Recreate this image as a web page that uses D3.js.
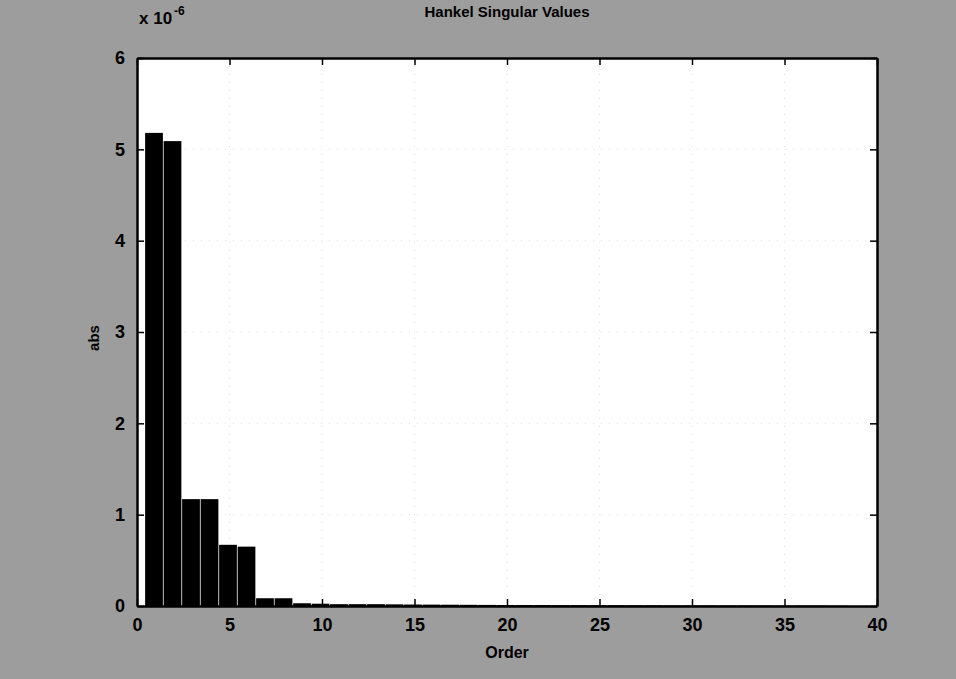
<!DOCTYPE html>
<html>
<head>
<meta charset="utf-8">
<script src="https://cdn.jsdelivr.net/npm/d3@7"></script>
<style>
  html, body { margin: 0; padding: 0; background: #9d9d9d; }
  svg { display: block; }
  text { font-family: "Liberation Sans", Arial, sans-serif; font-weight: bold; fill: #000; }
</style>
</head>
<body>
<div id="chart"></div>
<script>
(function () {
  "use strict";

  // Data (values in units of 1e-6)
  const orders = d3.range(1, 39);
  const hsv = [5.18, 5.09, 1.17, 1.17, 0.67, 0.65, 0.085, 0.085, 0.03, 0.025,
               0.02, 0.02, 0.02, 0.018, 0.016, 0.015, 0.014, 0.013, 0.012, 0.011,
               0.01, 0.01, 0.009, 0.009, 0.008, 0.008, 0.007, 0.007, 0.006, 0.006,
               0.006, 0.005, 0.005, 0.005, 0.004, 0.004, 0.004, 0.003];
  const xTicks = [0, 5, 10, 15, 20, 25, 30, 35, 40];
  const yTicks = [0, 1, 2, 3, 4, 5, 6];

  // Dimensions
  const totalW = 956, totalH = 679;
  const margin = { top: 58, right: 79, bottom: 73, left: 137 };
  const width  = totalW - margin.left - margin.right;
  const height = totalH - margin.top - margin.bottom;

  const x = d3.scaleLinear().domain([0, 40]).range([0, width]);
  const y = d3.scaleLinear().domain([0, 6]).range([height, 0]);

  const svg = d3.select("#chart").append("svg")
    .attr("width", totalW).attr("height", totalH);

  svg.append("rect").attr("width", totalW).attr("height", totalH).attr("fill", "#9d9d9d");

  const g = svg.append("g").attr("transform", `translate(${margin.left},${margin.top})`);

  // Plot background
  g.append("rect").attr("width", width).attr("height", height).attr("fill", "#fff");

  // Faint dotted grid
  g.append("g").selectAll("line").data(xTicks.slice(1, -1)).join("line")
    .attr("x1", d => x(d)).attr("x2", d => x(d)).attr("y1", 0).attr("y2", height)
    .attr("stroke", "#e0e0e0").attr("stroke-dasharray", "1,7");
  g.append("g").selectAll("line").data(yTicks.slice(1, -1)).join("line")
    .attr("x1", 0).attr("x2", width).attr("y1", d => y(d)).attr("y2", d => y(d))
    .attr("stroke", "#e0e0e0").attr("stroke-dasharray", "1,7");

  // Bars
  const bw = x(0.96) - x(0);
  g.append("g").selectAll("rect").data(orders).join("rect")
    .attr("x", d => x(d) - bw / 2 - 1.5)
    .attr("width", bw)
    .attr("y", (d, i) => y(hsv[i]))
    .attr("height", (d, i) => height - y(hsv[i]) + 1)
    .attr("fill", "#000");

  // Axes (inward ticks)
  const tickLen = 7;
  const axB = g.append("g").attr("transform", `translate(0,${height})`)
    .call(d3.axisBottom(x).tickValues(xTicks).tickSizeInner(-tickLen).tickSizeOuter(0).tickPadding(12));
  const axT = g.append("g")
    .call(d3.axisTop(x).tickValues(xTicks).tickSizeInner(-tickLen).tickSizeOuter(0).tickFormat(""));
  const axL = g.append("g")
    .call(d3.axisLeft(y).tickValues(yTicks).tickSizeInner(-tickLen).tickSizeOuter(0)
      .tickFormat(d3.format("d")).tickPadding(12));
  const axR = g.append("g").attr("transform", `translate(${width},0)`)
    .call(d3.axisRight(y).tickValues(yTicks).tickSizeInner(-tickLen).tickSizeOuter(0).tickFormat(""));

  [axB, axT, axL, axR].forEach(a => {
    a.select(".domain").attr("stroke", "#000").attr("stroke-width", 2.5);
    a.selectAll(".tick line").attr("stroke", "#000").attr("stroke-width", 1.5);
    a.selectAll("text").style("font-size", "18px").attr("fill", "#000");
  });

  // Title and labels
  g.append("text").attr("x", width / 2).attr("y", -41)
    .attr("text-anchor", "middle").style("font-size", "15px")
    .text("Hankel Singular Values");

  g.append("text").attr("x", width / 2).attr("y", height + 52)
    .attr("text-anchor", "middle").style("font-size", "16px")
    .text("Order");

  g.append("text").attr("transform", "rotate(-90)")
    .attr("x", -280).attr("y", -38)
    .attr("text-anchor", "middle").style("font-size", "15px")
    .text("abs");

  // Exponent label
  const ex = g.append("text").attr("x", 2).attr("y", -34).style("font-size", "17px");
  ex.append("tspan").text("x 10");
  ex.append("tspan").attr("dy", -9).attr("dx", 2).style("font-size", "12px").text("-6");
})();
</script>
</body>
</html>
